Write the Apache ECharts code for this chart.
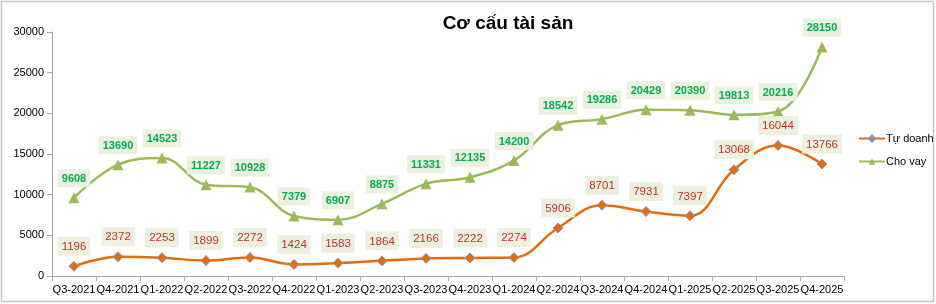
<!DOCTYPE html>
<html><head><meta charset="utf-8">
<script src="https://cdn.jsdelivr.net/npm/echarts@6/dist/echarts.min.js"></script>
<style>html,body{margin:0;padding:0;background:#fff}#c{width:936px;height:304px}</style>
</head><body><div id="c"></div>
<script>
const categories = ['Q3-2021','Q4-2021','Q1-2022','Q2-2022','Q3-2022','Q4-2022','Q1-2023','Q2-2023','Q3-2023','Q4-2023','Q1-2024','Q2-2024','Q3-2024','Q4-2024','Q1-2025','Q2-2025','Q3-2025','Q4-2025'];
const tuDoanh = [1196,2372,2253,1899,2272,1424,1583,1864,2166,2222,2274,5906,8701,7931,7397,13068,16044,13766];
const choVay = [9608,13690,14523,11227,10928,7379,6907,8875,11331,12135,14200,18542,19286,20429,20390,19813,20216,28150];
const yTicks = [0,5000,10000,15000,20000,25000,30000];

const FONT = '"Liberation Sans", Arial, sans-serif';
const chart = echarts.init(document.getElementById('c'));
chart.setOption({
  animation: false,
  backgroundColor: '#fff',
  title: {
    text: 'Cơ cấu tài sản', left: 503, top: 9, textAlign: 'center',
    textStyle: {fontFamily: FONT, fontSize: 19, fontWeight: 'bold', color: '#000'}
  },
  graphic: [{type: 'rect', shape: {x: 1.5, y: 1.5, width: 932, height: 300}, style: {fill: 'none', stroke: '#c8c8c8', lineWidth: 1.5}, silent: true}],
  legend: {
    orient: 'vertical', left: 853, top: 128, itemGap: 12, itemWidth: 26, itemHeight: 8,
    textStyle: {fontFamily: FONT, fontSize: 11, color: '#000', padding: [0,0,0,-4]},
    data: ['Tự doanh', 'Cho vay']
  },
  grid: {left: 52, right: 92, top: 32, bottom: 28},
  xAxis: {
    type: 'category', data: categories, boundaryGap: true,
    axisLine: {lineStyle: {color: '#a6a6a6', width: 1}},
    axisTick: {show: true, alignWithLabel: false, length: 5, lineStyle: {color: '#a6a6a6'}},
    axisLabel: {fontFamily: FONT, fontSize: 11, color: '#000', margin: 8, interval: 0}
  },
  yAxis: {
    type: 'value', min: 0, max: 30000, interval: 5000,
    axisLine: {show: true, lineStyle: {color: '#a6a6a6'}},
    axisTick: {show: true, length: 5, lineStyle: {color: '#a6a6a6'}},
    splitLine: {show: false},
    axisLabel: {fontFamily: FONT, fontSize: 11, color: '#000', margin: 8,
      formatter: v => yTicks.includes(v) ? String(v) : ''}
  },
  series: [
    {
      name: 'Tự doanh', type: 'line', data: tuDoanh, smooth: 0.4,
      symbol: 'diamond', symbolSize: 10,
      lineStyle: {color: '#e46c0a', width: 2.5},
      itemStyle: {color: '#e46c0a', borderColor: '#7f9cc7', borderWidth: 1},
      label: {show: true, position: 'top', distance: 5, fontFamily: FONT, fontSize: 11.5, color: '#d22b2b',
        backgroundColor: '#ebf1de', padding: [4,4,3,4]}
    },
    {
      name: 'Cho vay', type: 'line', data: choVay, smooth: 0.4,
      symbol: 'triangle', symbolSize: 11,
      lineStyle: {color: '#9bbb59', width: 2.5},
      itemStyle: {color: '#9bbb59'},
      label: {show: true, position: 'top', distance: 5, fontFamily: FONT, fontSize: 11, fontWeight: 'bold', color: '#00b050',
        backgroundColor: '#ebf1de', padding: [4,4,3,4]}
    }
  ]
});
</script></body></html>
